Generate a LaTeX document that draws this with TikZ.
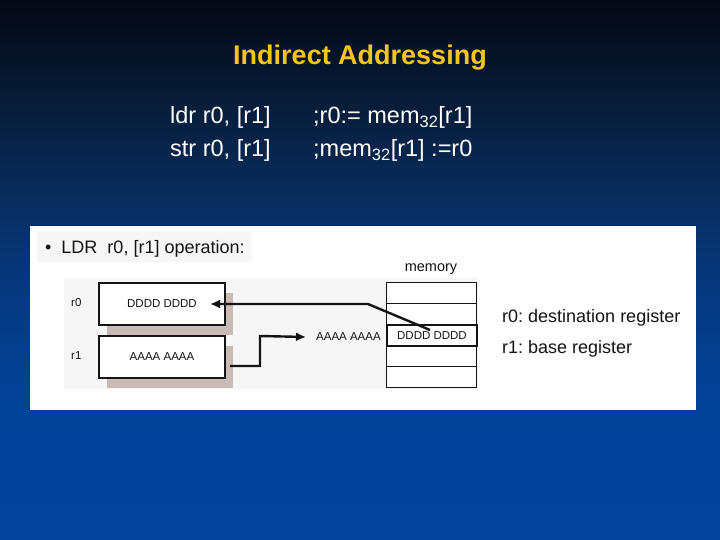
\documentclass[tikz,border=0pt]{standalone}
\usepackage{fontspec}
\setmainfont{Liberation Sans}
\usetikzlibrary{arrows.meta}
\definecolor{bgA}{RGB}{4,8,20}
\definecolor{bgB}{RGB}{8,28,55}
\definecolor{bgC}{RGB}{8,45,95}
\definecolor{bgD}{RGB}{6,58,130}
\definecolor{bgE}{RGB}{2,66,152}
\definecolor{bgF}{RGB}{0,68,158}
\definecolor{titley}{RGB}{247,196,30}
\definecolor{shadowc}{RGB}{201,186,181}
\definecolor{ink}{RGB}{20,20,20}
\definecolor{faint}{RGB}{246,246,246}
\pgfdeclareverticalshading{bgshade}{100bp}{color(0bp)=(bgF); color(25bp)=(bgF); color(38bp)=(bgE); color(47.2bp)=(bgD); color(56.5bp)=(bgC); color(65.7bp)=(bgB); color(75bp)=(bgA); color(100bp)=(bgA)}
\tikzset{
  title/.style={font=\fontsize{27}{30}\selectfont\bfseries, text=titley, inner sep=0pt},
  code/.style={font=\fontsize{23.5}{26}\selectfont, text=white, inner sep=0pt, anchor=base west},
  ptext/.style={font=\fontsize{18}{22}\selectfont, text=ink, inner sep=0pt, anchor=base west},
  small/.style={font=\fontsize{11.5}{13}\selectfont, text=ink, inner sep=0pt},
  regbox/.style={draw=ink, line width=2pt, fill=white, minimum width=126pt, minimum height=42pt, anchor=north west, inner sep=0pt, font=\fontsize{11.5}{13}\selectfont, text=ink},
  memcell/.style={draw=ink, line width=1pt, fill=white, minimum width=90pt, minimum height=21pt, anchor=north west, inner sep=0pt, font=\fontsize{11.5}{13}\selectfont, text=ink},
  conn/.style={draw=ink, line width=2.4pt, -{Latex[length=10pt,width=9pt]}}
}
\frenchspacing
\begin{document}
\frenchspacing
\begin{tikzpicture}[x=1pt,y=-1pt]
\useasboundingbox (0,0) rectangle (720,540);
\shade[shading=bgshade] (0,0) rectangle (720,540);
% panel
\fill[white] (30,226) rectangle (696,410);
\fill[faint] (37,232) rectangle (252,262);
\fill[faint] (64,278) rectangle (478,389);
% title and code
\node[title] (t) at (360,58) {Indirect Addressing};
\node[code] (c1) at (170,124) {ldr r0, [r1]};
\node[code] (c2) at (170,157) {str r0, [r1]};
\node[code] (m1) at (313,124) {;r0:= mem\textsubscript{32}[r1]};
\node[code] (m2) at (313,157) {;mem\textsubscript{32}[r1] :=r0};
% bullet line
\node[ptext] (ldr) at (45,253) {\textbullet\ \ LDR\ \ r0, [r1] operation:};
% shadows
\fill[shadowc] (107,293) rectangle (233,335);
\fill[shadowc] (107,346) rectangle (233,388);
% registers
\node[regbox] (r0box) at (98,282) {DDDD DDDD};
\node[regbox] (r1box) at (98,335) {AAAA AAAA};
\node[small, anchor=west] (r0l) at (71,303) {r0};
\node[small, anchor=west] (r1l) at (71,356) {r1};
% memory
\node[small, font=\fontsize{14.5}{16}\selectfont] (memlab) at (431,269) {memory};
\node[memcell] (mc1) at (386,282) {};
\node[memcell] (mc2) at (386,303) {};
\node[memcell] (mc4) at (386,345) {};
\node[memcell] (mc5) at (386,366) {};
\node[memcell, line width=2pt] (mc3) at (386,324) {DDDD DDDD};
% address label
\node[small, anchor=west] (addr) at (316,337) {AAAA AAAA};
% right text
\node[ptext] (d1) at (502,322.5) {r0: destination register};
\node[ptext] (d2) at (502,353) {r1: base register};
% connectors
\coordinate (r1out) at (230,366);
\coordinate (memsrc) at (430,330);
\coordinate (r0in) at (210,304);
\draw[conn] (r1out) -- (260,366) -- (260,336) -- ([xshift=-10pt]addr.west);
\draw[conn] (memsrc) -- (368,304) -- (r0in);
\end{tikzpicture}
\end{document}
